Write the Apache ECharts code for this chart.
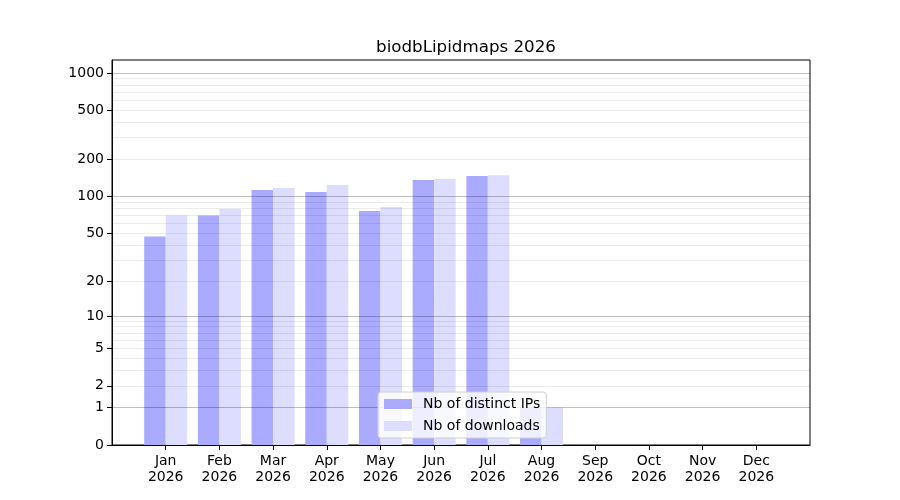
<!DOCTYPE html>
<html>
<head>
<meta charset="utf-8">
<script src="https://cdn.jsdelivr.net/npm/echarts@6/dist/echarts.min.js"></script>
<style>
  html, body { margin: 0; padding: 0; background: #fff; }
  #chart { width: 900px; height: 500px; }
</style>
</head>
<body>
<div id="chart"></div>
<script>
// months shown on the x axis
const months = ['Jan', 'Feb', 'Mar', 'Apr', 'May', 'Jun', 'Jul', 'Aug', 'Sep', 'Oct', 'Nov', 'Dec'];
const year = '2026';

// counts
const distinctIPs = [47, 70, 113, 109, 76, 136, 147, 1, 0, 0, 0, 0];
const downloads = [70, 79, 117, 124, 82, 139, 149, 1, 0, 0, 0, 0];

// y axis ticks (raw counts, axis is log10(1 + n))
const yLabels = [0, 1, 2, 5, 10, 20, 50, 100, 200, 500, 1000];
const yMajor = [1, 10, 100, 1000];
const yMinor = [2, 3, 4, 5, 6, 7, 8, 9, 20, 30, 40, 50, 60, 70, 80, 90,
                200, 300, 400, 500, 600, 700, 800, 900];

const tf = n => Math.log10(1 + n);
const yMax = 3.105;
const FONT = 'DejaVu Sans';

const chart = echarts.init(document.getElementById('chart'));

const hiddenY = (values, color, pos) => ({
    type: 'value', min: 0, max: yMax, position: pos, z: 3,
    axisLine: { show: false, onZero: false },
    axisLabel: { show: false },
    axisTick: { show: false, customValues: values.map(tf) },
    splitLine: { show: true, lineStyle: { color: color, width: 1 } }
});

chart.setOption({
    animation: false,
    title: {
        text: 'biodbLipidmaps ' + year,
        left: 461, top: 34, textAlign: 'center',
        textStyle: { fontFamily: FONT, fontSize: 16.7, fontWeight: 'normal', color: '#000' }
    },
    grid: {
        left: 112, right: 90, top: 60, bottom: 55,
        show: true, borderColor: '#000', borderWidth: 1, backgroundColor: 'transparent'
    },
    legend: {
        orient: 'vertical', left: 378, top: 392,
        backgroundColor: 'rgba(255,255,255,0.8)',
        borderColor: '#d0d0d0', borderWidth: 1, borderRadius: 3,
        padding: [5, 6, 5, 6], itemGap: 8,
        itemWidth: 28, itemHeight: 10, icon: 'rect',
        textStyle: { fontFamily: FONT, fontSize: 14, color: '#000', padding: [0, 0, 0, 6] },
        data: ['Nb of distinct IPs', 'Nb of downloads']
    },
    xAxis: {
        type: 'value', min: -1, max: 12,
        axisLine: { show: true, onZero: false, lineStyle: { color: '#000' } },
        axisTick: { show: true, length: 5, customValues: months.map((m, i) => i), lineStyle: { color: '#000' } },
        axisLabel: {
            customValues: months.map((m, i) => i),
            formatter: v => months[v] + '\n' + year,
            fontFamily: FONT, fontSize: 14, color: '#000', lineHeight: 16, margin: 8
        },
        splitLine: { show: false }
    },
    yAxis: [
        {
            type: 'value', min: 0, max: yMax, position: 'left',
            axisLine: { show: true, onZero: false, lineStyle: { color: '#000' } },
            axisTick: { show: true, length: 5, customValues: yLabels.map(tf), lineStyle: { color: '#000' } },
            axisLabel: {
                customValues: yLabels.map(tf),
                formatter: v => String(Math.round(Math.pow(10, v) - 1)),
                fontFamily: FONT, fontSize: 14, color: '#000', margin: 8
            },
            splitLine: { show: false }
        },
        hiddenY(yMajor, 'rgba(0,0,0,0.25)', 'right'),
        hiddenY(yMinor, 'rgba(0,0,0,0.08)', 'right')
    ],
    series: [
        {
            name: 'Nb of distinct IPs', type: 'bar', yAxisIndex: 0,
            barWidth: 21.5, barGap: '0%',
            itemStyle: { color: '#aaaaff' },
            data: distinctIPs.map((n, i) => [i, tf(n)])
        },
        {
            name: 'Nb of downloads', type: 'bar', yAxisIndex: 0,
            barWidth: 21.5, barGap: '0%',
            itemStyle: { color: '#ddddff' },
            data: downloads.map((n, i) => [i, tf(n)])
        }
    ]
});
</script>
</body>
</html>
